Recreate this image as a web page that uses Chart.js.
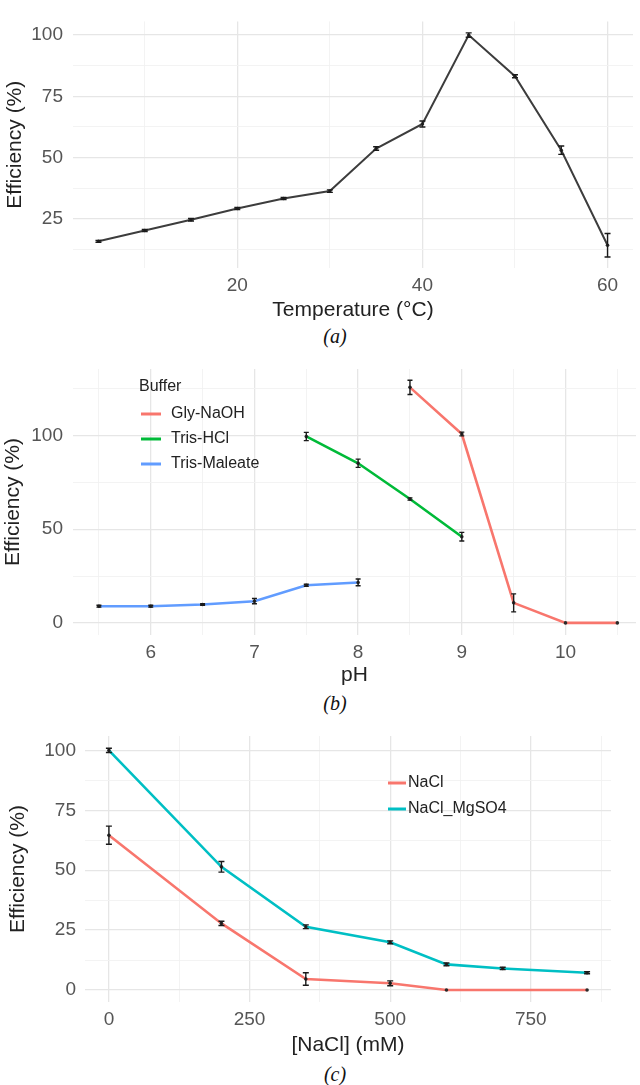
<!DOCTYPE html>
<html>
<head>
<meta charset="utf-8">
<script src="https://cdn.jsdelivr.net/npm/chart.js@4.4.1/dist/chart.umd.min.js"></script>
<style>
  html, body { margin: 0; padding: 0; background: #fff; }
  #page { position: relative; width: 640px; height: 1085px; background: #fff; overflow: hidden; }
  .panel { position: absolute; left: 0; width: 640px; }
  .cap { position: absolute; left: 0; width: 670px; text-align: center; line-height: 24px;
         font: italic 20px "Liberation Serif", "DejaVu Serif", serif; color: #111; }
</style>
</head>
<body>
<div id="page">
  <div class="panel" style="top:0;height:323px"><canvas id="chartA"></canvas></div>
  <div class="cap" style="top:325px">(a)</div>
  <div class="panel" style="top:345px;height:343px"><canvas id="chartB"></canvas></div>
  <div class="cap" style="top:692px">(b)</div>
  <div class="panel" style="top:712px;height:346px"><canvas id="chartC"></canvas></div>
  <div class="cap" style="top:1063px">(c)</div>
</div>
<script>
// (a) temperatura
const tempX = [5, 10, 15, 20, 25, 30, 35, 40, 45, 50, 55, 60];
const tempEff = [15.8, 20.2, 24.6, 29.2, 33.3, 36.3, 53.7, 63.7, 100, 83.2, 53, 14.2];
const tempErr = [0.4, 0.4, 0.5, 0.4, 0.4, 0.5, 0.7, 1.2, 0.9, 0.6, 1.7, 4.8];

// (b) pH
const glyX = [8.5, 9, 9.5, 10, 10.5];
const glyEff = [125.7, 100.8, 10.7, 0, 0];
const glyErr = [3.8, 1, 4.8, 0, 0];
const trisHclX = [7.5, 8, 8.5, 9];
const trisHclEff = [99.5, 85.2, 66.1, 46];
const trisHclErr = [2.2, 2.2, 0.6, 2.3];
const maleateX = [5.5, 6, 6.5, 7, 7.5, 8];
const maleateEff = [8.9, 8.9, 9.8, 11.6, 20.1, 21.6];
const maleateErr = [0.5, 0.5, 0.4, 1.4, 0.5, 1.8];

// (c) NaCl
const naclX = [0, 200, 350, 500, 600, 850];
const naclEff = [64.6, 27.8, 4.6, 2.8, 0, 0];
const naclErr = [3.8, 0.9, 2.6, 1, 0, 0];
const mgX = [0, 200, 350, 500, 600, 700, 850];
const mgEff = [100, 51.4, 26.4, 19.9, 10.7, 9, 7.2];
const mgErr = [0.9, 2.2, 0.8, 0.6, 0.6, 0.5, 0.4];

// mreža in oznake osi
const tempTicks = [10, 20, 30, 40, 50, 60];
const tempLabels = [20, 40, 60];
const effTicksA = [12.5, 25, 37.5, 50, 62.5, 75, 87.5, 100];
const effLabelsA = [25, 50, 75, 100];
const phTicks = [5.5, 6, 6.5, 7, 7.5, 8, 8.5, 9, 9.5, 10, 10.5];
const phLabels = [6, 7, 8, 9, 10];
const effTicksB = [0, 25, 50, 75, 100, 125];
const effLabelsB = [0, 50, 100];
const naclTicks = [0, 125, 250, 375, 500, 625, 750, 875];
const naclLabels = [0, 250, 500, 750];
const effTicksC = [0, 12.5, 25, 37.5, 50, 62.5, 75, 87.5, 100];
const effLabelsC = [0, 25, 50, 75, 100];

const RED = '#F8766D';
const GREEN = '#00BA38';
const BLUE = '#619CFF';
const TEAL = '#00BFC4';
const FONT = '"Liberation Sans", Arial, sans-serif';

Chart.defaults.font.family = FONT;
Chart.defaults.animation = false;

function toPoints(xs, ys) {
  return xs.map((x, i) => ({ x, y: ys[i] }));
}

// navpični error bari čez vsako točko
const errorBarsPlugin = {
  id: 'errorBars',
  afterDatasetsDraw(chart) {
    const { ctx, scales } = chart;
    for (const ds of chart.data.datasets) {
      if (!ds.errors) continue;
      const w = ds.capWidth || 3;
      ctx.save();
      ctx.strokeStyle = '#1a1a1a';
      ctx.lineWidth = 1.4;
      ds.data.forEach((p, i) => {
        const e = ds.errors[i];
        if (!e) return;
        const x = scales.x.getPixelForValue(p.x);
        const y1 = scales.y.getPixelForValue(p.y - e);
        const y2 = scales.y.getPixelForValue(p.y + e);
        ctx.beginPath();
        ctx.moveTo(x, y1); ctx.lineTo(x, y2);
        ctx.moveTo(x - w, y1); ctx.lineTo(x + w, y1);
        ctx.moveTo(x - w, y2); ctx.lineTo(x + w, y2);
        ctx.stroke();
      });
      ctx.restore();
    }
  },
};

// legenda znotraj grafa (kot pri ggplot)
const innerLegendPlugin = {
  id: 'innerLegend',
  afterDraw(chart, args, opts) {
    if (!opts || !opts.items) return;
    const { ctx } = chart;
    ctx.save();
    ctx.font = `16px ${FONT}`;
    ctx.textBaseline = 'middle';
    ctx.textAlign = 'left';
    let y = opts.y;
    if (opts.title) {
      ctx.fillStyle = '#222';
      ctx.fillText(opts.title, opts.titleX, opts.titleY);
    }
    for (const item of opts.items) {
      ctx.strokeStyle = item.color;
      ctx.lineWidth = 3;
      ctx.beginPath();
      ctx.moveTo(opts.x, y);
      ctx.lineTo(opts.x + opts.lineLen, y);
      ctx.stroke();
      ctx.fillStyle = '#222';
      ctx.fillText(item.label, opts.x + opts.lineLen + opts.textGap, y);
      y += opts.step;
    }
    ctx.restore();
  },
};

function gridAxis({ min, max, ticks, labels, title, fit, pad, horizontal }) {
  return {
    type: 'linear',
    min,
    max,
    afterBuildTicks: (axis) => { axis.ticks = ticks.map((v) => ({ value: v })); },
    afterFit: (axis) => {
      if (horizontal) axis.height = fit; else axis.width = fit;
    },
    border: { display: false },
    grid: {
      drawTicks: false,
      color: (c) => labels.includes(c.tick.value) ? '#e6e6e6' : '#f2f2f2',
      lineWidth: (c) => labels.includes(c.tick.value) ? 1.3 : 0.9,
    },
    ticks: {
      autoSkip: false,
      maxRotation: 0,
      padding: pad,
      color: '#555',
      font: { size: 19 },
      callback: (v) => labels.includes(v) ? String(v) : '',
    },
    title: {
      display: true,
      text: title,
      color: '#222',
      padding: 0,
      font: { size: 21 },
    },
  };
}

function makeChart(id, datasets, cfg) {
  return new Chart(document.getElementById(id), {
    type: 'scatter',
    plugins: [errorBarsPlugin, innerLegendPlugin],
    data: { datasets },
    options: {
      responsive: true,
      maintainAspectRatio: false,
      devicePixelRatio: 1,
      layout: { padding: cfg.padding },
      plugins: {
        legend: { display: false },
        tooltip: { enabled: false },
        innerLegend: cfg.legend || {},
      },
      scales: { x: cfg.x, y: cfg.y },
    },
  });
}

function series(xs, ys, errs, color, width, cap) {
  return {
    data: toPoints(xs, ys),
    errors: errs,
    capWidth: cap,
    showLine: true,
    borderColor: color,
    borderWidth: width,
    pointRadius: 1.8,
    pointBackgroundColor: '#2a2a2a',
    pointBorderWidth: 0,
    tension: 0,
  };
}

// (a)
makeChart('chartA', [
  series(tempX, tempEff, tempErr, '#3d3d3d', 2, 3),
], {
  padding: { left: 3, right: 7, top: 9, bottom: 0 },
  x: gridAxis({ min: 2.25, max: 62.75, ticks: tempTicks, labels: tempLabels,
                title: 'Temperature (°C)', fit: 55, pad: 6, horizontal: true }),
  y: gridAxis({ min: 4.9, max: 105.6, ticks: effTicksA, labels: effLabelsA,
                title: 'Efficiency (%)', fit: 70, pad: 10 }),
});

// (b)
makeChart('chartB', [
  series(maleateX, maleateEff, maleateErr, BLUE, 2.6, 2.5),
  series(trisHclX, trisHclEff, trisHclErr, GREEN, 2.6, 2.5),
  series(glyX, glyEff, glyErr, RED, 2.6, 2.5),
], {
  padding: { left: 1, right: 2, top: 24, bottom: 0 },
  x: gridAxis({ min: 5.25, max: 10.68, ticks: phTicks, labels: phLabels,
                title: 'pH', fit: 53, pad: 6, horizontal: true }),
  y: gridAxis({ min: -6.45, max: 135.5, ticks: effTicksB, labels: effLabelsB,
                title: 'Efficiency (%)', fit: 72, pad: 10 }),
  legend: {
    title: 'Buffer', titleX: 139, titleY: 42,
    x: 141, y: 69, step: 25, lineLen: 20, textGap: 10,
    items: [
      { label: 'Gly-NaOH', color: RED },
      { label: 'Tris-HCl', color: GREEN },
      { label: 'Tris-Maleate', color: BLUE },
    ],
  },
});

// (c)
makeChart('chartC', [
  series(naclX, naclEff, naclErr, RED, 2.6, 3),
  series(mgX, mgEff, mgErr, TEAL, 2.6, 3),
], {
  padding: { left: 6, right: 29, top: 24, bottom: 0 },
  x: gridAxis({ min: -42.5, max: 892.5, ticks: naclTicks, labels: naclLabels,
                title: '[NaCl] (mM)', fit: 56, pad: 6, horizontal: true }),
  y: gridAxis({ min: -5, max: 106, ticks: effTicksC, labels: effLabelsC,
                title: 'Efficiency (%)', fit: 79, pad: 9 }),
  legend: {
    x: 388, y: 71, step: 26, lineLen: 18, textGap: 2,
    items: [
      { label: 'NaCl', color: RED },
      { label: 'NaCl_MgSO4', color: TEAL },
    ],
  },
});
</script>
</body>
</html>
